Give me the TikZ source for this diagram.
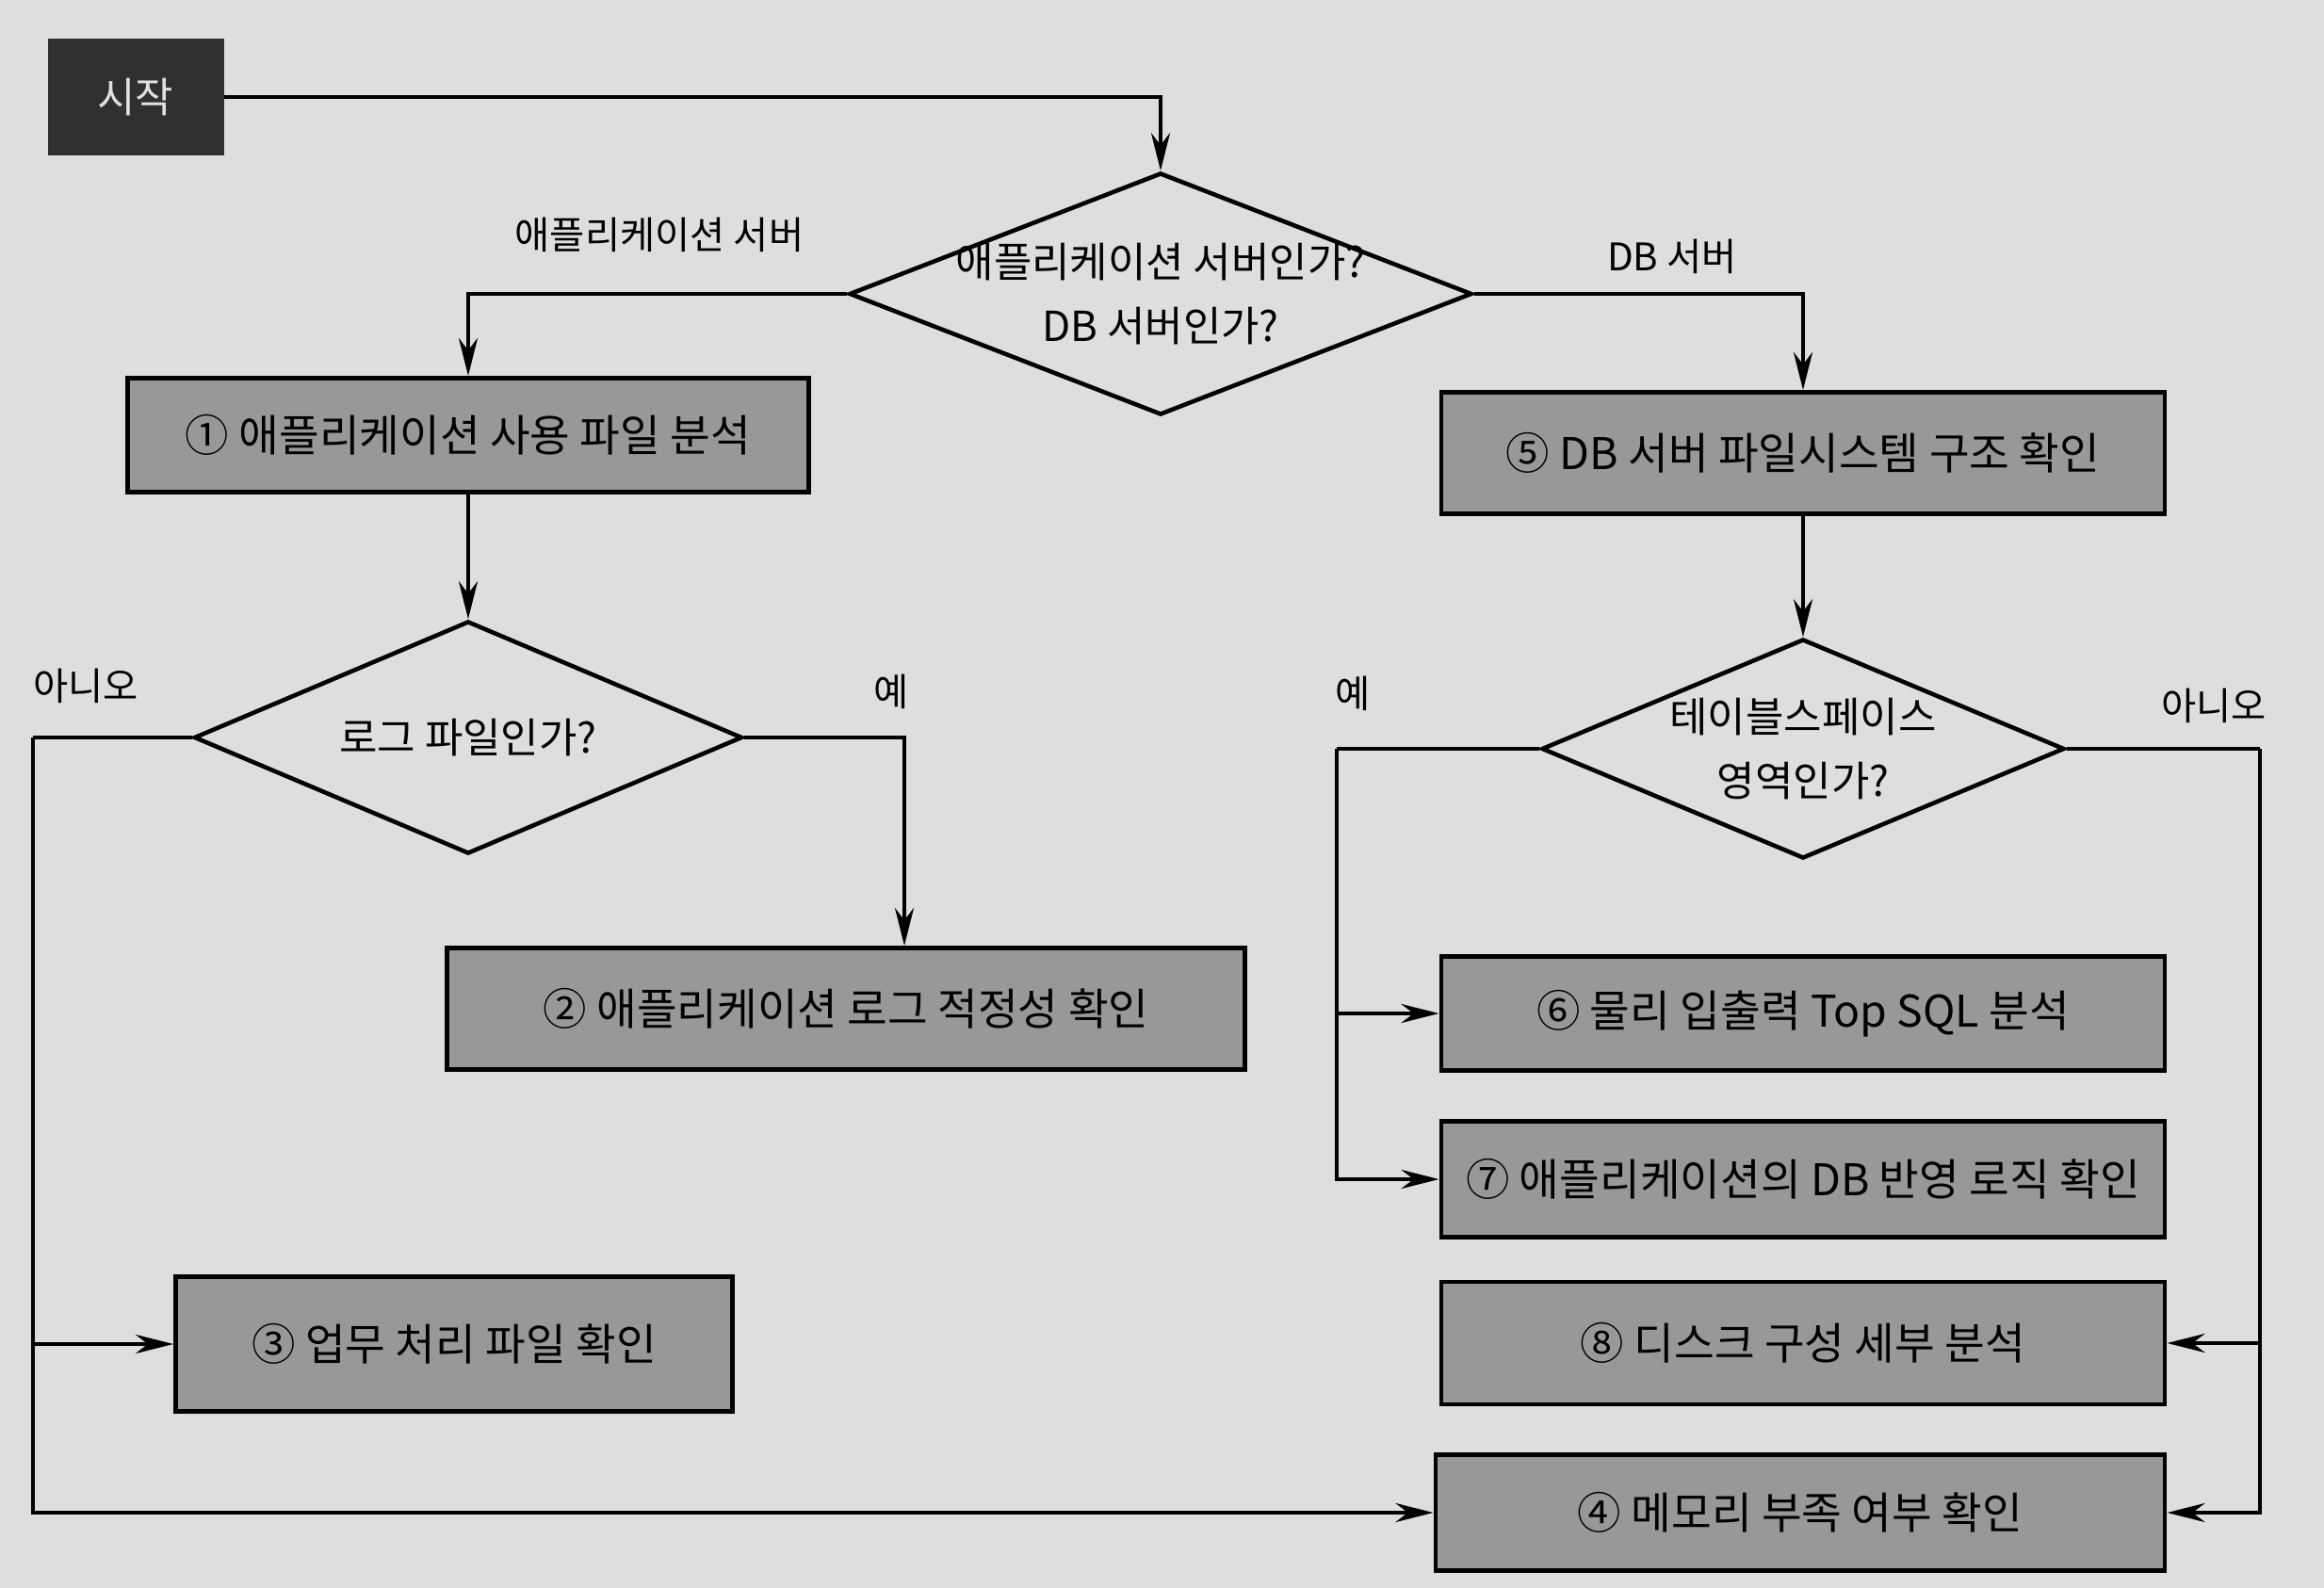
\documentclass[tikz,border=0pt]{standalone}
\usepackage{fontspec}
\setmainfont{Noto Sans CJK KR}
\usetikzlibrary{
	arrows.meta,
	calc,
	positioning,
	shapes.geometric
}
\definecolor{paper}{RGB}{222,222,220}
\definecolor{boxgray}{RGB}{152,152,152}
\definecolor{startgray}{RGB}{48,48,48}
\tikzset{
	FC-Box/.style={rectangle,draw,line width=1.4pt,fill=boxgray,align=center,inner sep=0pt,
		font=\fontsize{13.2}{15}\selectfont},
	FC-Start/.style={rectangle,fill=startgray,text=white!88!black,inner sep=0pt,
		font=\fontsize{12.5}{14}\selectfont},
	FC-Decision/.style={diamond,draw,line width=1.3pt,align=center,inner xsep=0pt,inner ysep=-0.2cm,
		font=\fontsize{12.5}{19.5}\selectfont},
	FC-Line/.style={line width=1.3pt},
	FC-Arrow/.style={-{Stealth[length=4mm,width=2mm]},line width=1.3pt},
	FC-Label/.style={inner sep=0pt,font=\fontsize{11.5}{13}\selectfont}
}

\begin{document}
\begin{tikzpicture}
	\useasboundingbox (0,0) rectangle (24.67,-16.86);
	\fill[paper] (0,0) rectangle (24.67,-16.86);
	% start and first decision
	\node [FC-Start,minimum width=1.87cm,minimum height=1.24cm] (node_start) at (1.44,-1.03) {시작};
	\node [FC-Decision,shape aspect=2.57,minimum width=6.61cm,minimum height=2.57cm] (node_srv) at (12.32,-3.12)
		{애플리케이션 서버인가?\\DB 서버인가?};
	% application server side
	\node [FC-Box,minimum width=7.23cm,minimum height=1.21cm] (node_box1) at (4.97,-4.62) {① 애플리케이션 사용 파일 분석};
	\node [FC-Decision,shape aspect=2.36,minimum width=5.82cm,minimum height=2.47cm] (node_logq) at (4.97,-7.83) {로그 파일인가?};
	\node [FC-Box,minimum width=8.47cm,minimum height=1.29cm] (node_box2) at (8.98,-10.71) {② 애플리케이션 로그 적정성 확인};
	\node [FC-Box,minimum width=5.91cm,minimum height=1.43cm] (node_box3) at (4.82,-14.27) {③ 업무 처리 파일 확인};
	% db server side
	\node [FC-Box,minimum width=7.68cm,minimum height=1.29cm] (node_box5) at (19.14,-4.81) {⑤ DB 서버 파일시스템 구조 확인};
	\node [FC-Decision,shape aspect=2.38,minimum width=5.55cm,minimum height=2.33cm] (node_tbsq) at (19.14,-7.95)
		{테이블스페이스\\영역인가?};
	\node [FC-Box,minimum width=7.68cm,minimum height=1.21cm] (node_box6) at (19.14,-10.76) {⑥ 물리 입출력 Top SQL 분석};
	\node [FC-Box,minimum width=7.68cm,minimum height=1.23cm] (node_box7) at (19.14,-12.52) {⑦ 애플리케이션의 DB 반영 로직 확인};
	\node [FC-Box,minimum width=7.68cm,minimum height=1.30cm] (node_box8) at (19.14,-14.26) {⑧ 디스크 구성 세부 분석};
	\node [FC-Box,minimum width=7.74cm,minimum height=1.23cm] (node_box4) at (19.11,-16.06) {④ 메모리 부족 여부 확인};
	% branch labels
	\node [FC-Label] (lbl_app) at (7.00,-2.49) {애플리케이션 서버};
	\node [FC-Label] (lbl_db) at (17.75,-2.72) {DB 서버};
	\node [FC-Label] (lbl_no_l) at (0.91,-7.28) {아니오};
	\node [FC-Label] (lbl_yes_l) at (9.46,-7.34) {예};
	\node [FC-Label] (lbl_yes_r) at (14.36,-7.36) {예};
	\node [FC-Label] (lbl_no_r) at (23.50,-7.49) {아니오};
	% bus lines
	\coordinate (bus_l) at (0.35,-7.83);
	\coordinate (bus_m) at (14.19,-7.95);
	\coordinate (bus_r) at (23.99,-7.95);
	\draw [FC-Arrow] (node_start.east) -| (node_srv.north);
	\draw [FC-Arrow] (node_srv.west) -| (node_box1.north);
	\draw [FC-Arrow] (node_srv.east) -| (node_box5.north);
	\draw [FC-Arrow] (node_box1.south) -- (node_logq.north);
	\draw [FC-Arrow] (node_logq.east) -| ($(node_box2.north)+(0.62,0)$);
	\draw [FC-Line] (node_logq.west) -- (bus_l);
	\draw [FC-Arrow] (bus_l) |- (node_box3.west);
	\draw [FC-Arrow] (bus_l) |- (node_box4.west);
	\draw [FC-Arrow] (node_box5.south) -- (node_tbsq.north);
	\draw [FC-Line] (node_tbsq.west) -- (bus_m);
	\draw [FC-Arrow] (bus_m) |- (node_box6.west);
	\draw [FC-Arrow] (bus_m) |- (node_box7.west);
	\draw [FC-Line] (node_tbsq.east) -- (bus_r);
	\draw [FC-Arrow] (bus_r) |- (node_box8.east);
	\draw [FC-Arrow] (bus_r) |- (node_box4.east);
\end{tikzpicture}
\end{document}
